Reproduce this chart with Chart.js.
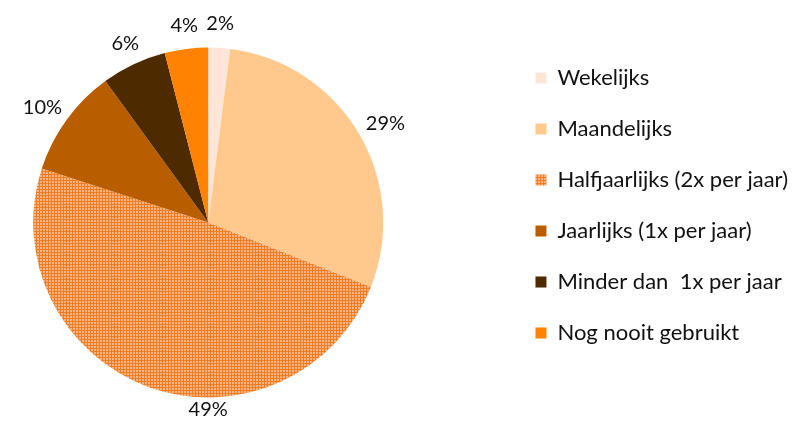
<!DOCTYPE html>
<html>
<head>
<meta charset="utf-8">
<script src="https://cdn.jsdelivr.net/npm/chart.js@4/dist/chart.umd.min.js"></script>
<style>
  html, body { margin: 0; padding: 0; background: #fff; }
  #wrap { width: 798px; height: 421px; }
</style>
</head>
<body>
<div id="wrap"><canvas id="chart" width="798" height="421"></canvas></div>
<script>
const categories = [
    'Wekelijks',
    'Maandelijks',
    'Halfjaarlijks (2x per jaar)',
    'Jaarlijks (1x per jaar)',
    'Minder dan  1x per jaar',
    'Nog nooit gebruikt'
];
const shares = [2, 29, 49, 10, 6, 4];

// grid pattern for the Halfjaarlijks slice
function make_grid_pattern() {
    const tile = document.createElement('canvas');
    tile.width = 3;
    tile.height = 3;
    const c = tile.getContext('2d');
    c.fillStyle = '#f7b483';
    c.fillRect(0, 0, 3, 3);
    c.fillStyle = '#ee7d25';
    c.fillRect(0, 0, 3, 1);
    c.fillRect(0, 0, 1, 3);
    return c.createPattern(tile, 'repeat');
}

const slice_colors = ['#fde6d8', '#ffc88c', make_grid_pattern(), '#b85d00', '#4e2a00', '#ff8200'];

const FONT = 'Lato, "Liberation Sans", sans-serif';

// move the plot area left of the legend, like the original layout
const shift_area = {
    id: 'shift_area',
    afterLayout(chart, args, opts) {
        const a = chart.chartArea;
        a.left += opts.x; a.right += opts.x;
        a.top += opts.y; a.bottom += opts.y;
    }
};

const outside_labels = {
    id: 'outside_labels',
    afterDatasetsDraw(chart, args, opts) {
        const ctx = chart.ctx;
        const meta = chart.getDatasetMeta(0);
        ctx.save();
        ctx.font = opts.size + 'px ' + FONT;
        ctx.fillStyle = '#111';
        ctx.textAlign = 'center';
        ctx.textBaseline = 'middle';
        meta.data.forEach((arc, i) => {
            const text = chart.data.datasets[0].data[i] + '%';
            let mid = (arc.startAngle + arc.endAngle) / 2;
            let gap = opts.gap;
            const o = opts.overrides && opts.overrides[i];
            if (o) { mid = o.angle; gap = o.gap; }
            const w = ctx.measureText(text).width;
            const h = opts.size;
            const r = arc.outerRadius + gap;
            const x = arc.x + Math.cos(mid) * (r + w / 2 * Math.abs(Math.cos(mid)));
            const y = arc.y + Math.sin(mid) * (r + h / 2 * Math.abs(Math.sin(mid)));
            ctx.fillText(text, x, y);
        });
        ctx.restore();
    }
};

new Chart(document.getElementById('chart'), {
    type: 'pie',
    data: {
        labels: categories,
        datasets: [{
            data: shares,
            backgroundColor: slice_colors,
            borderWidth: 0,
            radius: 175
        }]
    },
    options: {
        responsive: false,
        animation: false,
        layout: { padding: { top: 0, left: 0, right: 0, bottom: 10 } },
        plugins: {
            tooltip: { enabled: false },
            shift_area: { x: -45, y: 17 },
            outside_labels: { size: 20, gap: 14, overrides: { 2: { angle: Math.PI / 2, gap: 2 } } },
            legend: {
                position: 'right',
                align: 'center',
                labels: {
                    boxWidth: 11,
                    boxHeight: 11,
                    padding: 29,
                    color: '#111',
                    font: { family: FONT, size: 22 }
                }
            }
        }
    },
    plugins: [shift_area, outside_labels]
});
</script>
</body>
</html>
